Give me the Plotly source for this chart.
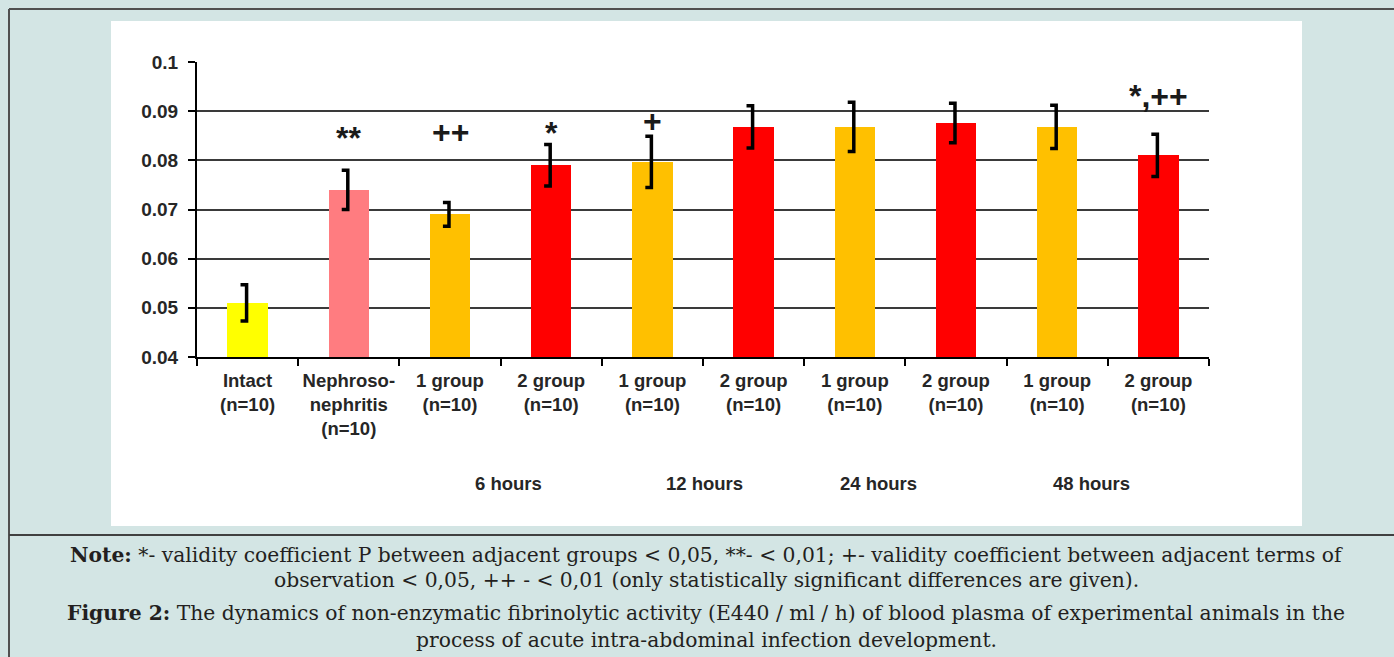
import plotly.graph_objects as go

# ---------------- data ----------------
categories = [
    "Intact<br>(n=10)",
    "Nephroso-<br>nephritis<br>(n=10)",
    "1 group<br>(n=10)", "2 group<br>(n=10)",
    "1 group<br>(n=10)", "2 group<br>(n=10)",
    "1 group<br>(n=10)", "2 group<br>(n=10)",
    "1 group<br>(n=10)", "2 group<br>(n=10)",
]
values = [0.051, 0.074, 0.069, 0.079, 0.0797, 0.0868, 0.0868, 0.0876, 0.0868, 0.081]
errors = [0.0037, 0.0040, 0.0024, 0.0042, 0.0052, 0.0043, 0.0050, 0.0040, 0.0044, 0.0043]
bar_colors = ["#ffff00", "#ff7c80", "#ffc000", "#ff0000", "#ffc000",
              "#ff0000", "#ffc000", "#ff0000", "#ffc000", "#ff0000"]
marks = ["", "**", "++", "*", "+", "", "", "", "", "*,++"]
periods = ["6 hours", "12 hours", "24 hours", "48 hours"]
y_ticks = [0.04, 0.05, 0.06, 0.07, 0.08, 0.09, 0.1]
y_tick_labels = ["0.04", "0.05", "0.06", "0.07", "0.08", "0.09", "0.1"]

note_line1 = ("<b>Note:</b> *- validity coefficient P between adjacent groups < 0,05, **- < 0,01; "
              "+- validity coefficient between adjacent terms of")
note_line2 = "observation < 0,05, ++ - < 0,01 (only statistically significant differences are given)."
fig_line1 = ("<b>Figure 2:</b> The dynamics of non-enzymatic fibrinolytic activity (E440 / ml / h) "
             "of blood plasma of experimental animals in the")
fig_line2 = "process of acute intra-abdominal infection development."

# ---------------- layout helpers ----------------
W, H = 1394, 657
L, R, T, B = 197, 1209, 62, 357  # plot area in pixels


def px(x):
    return (x - L) / (R - L)


def py(y):
    return (B - y) / (B - T)


xpos = list(range(len(categories)))

# significance mark placement (layout positions, data-y units)
mark_y = [None, 0.0846, 0.0857, 0.0856, 0.0881, None, None, None, None, 0.0931]
period_x = [2.58, 4.51, 6.23, 8.34]

fig = go.Figure()
fig.add_trace(go.Bar(
    x=xpos, y=values, width=0.4,
    marker=dict(color=bar_colors, line=dict(width=0)),
    hoverinfo="skip", showlegend=False,
))

# bracket-shaped error bars "]"
bx, by = [], []
for i, (v, e) in enumerate(zip(values, errors)):
    bx += [i - 0.07, i - 0.01, i - 0.01, i - 0.07, None]
    by += [v + e, v + e, v - e, v - e, None]
fig.add_trace(go.Scatter(
    x=bx, y=by, mode="lines",
    line=dict(color="black", width=3.5),
    hoverinfo="skip", showlegend=False,
))

sans = "Liberation Sans, Arial, sans-serif"
axis_font = dict(family=sans, size=19, color="#262626", weight="bold")
cat_font = dict(family=sans, size=18.5, color="#262626", weight="bold")

annotations = []
for i, m in enumerate(marks):
    if m:
        annotations.append(dict(
            x=i, y=mark_y[i], xref="x", yref="y", text=m, showarrow=False,
            font=dict(family=sans, size=32, color="#1a1a1a", weight="bold"),
            xanchor="center", yanchor="middle",
        ))
for p, xp in zip(periods, period_x):
    annotations.append(dict(
        x=xp, y=py(483), xref="x", yref="paper", text=p, showarrow=False,
        font=cat_font, xanchor="center", yanchor="middle",
    ))

serif = dict(family="DejaVu Serif, serif", size=20.3, color="#231f20")
for txt, yy in [(note_line1, 555), (note_line2, 580), (fig_line1, 613), (fig_line2, 640)]:
    annotations.append(dict(
        x=px(706), y=py(yy), xref="paper", yref="paper", text=txt, showarrow=False,
        font=serif, xanchor="center", yanchor="middle",
    ))

shapes = [
    # white chart panel
    dict(type="rect", xref="paper", yref="paper", x0=px(111), x1=px(1302), y0=py(526), y1=py(21),
         fillcolor="white", line=dict(width=0), layer="below"),
    # outer frame lines
    dict(type="line", xref="paper", yref="paper", x0=px(9), x1=px(9), y0=py(9), y1=py(H + 5),
         line=dict(color="#505050", width=2)),
    dict(type="line", xref="paper", yref="paper", x0=px(9), x1=px(W + 5), y0=py(9), y1=py(9),
         line=dict(color="#505050", width=2)),
    dict(type="line", xref="paper", yref="paper", x0=px(9), x1=px(W + 5), y0=py(535), y1=py(535),
         line=dict(color="#404040", width=2)),
]

yaxis_common = dict(
    range=[y_ticks[0], y_ticks[-1]], tickmode="array", tickvals=y_ticks, ticktext=y_tick_labels,
    ticks="outside", ticklen=7, tickwidth=1.5, tickcolor="black",
    showline=True, linecolor="black", linewidth=2, tickfont=axis_font, zeroline=False,
    fixedrange=True,
)

fig.update_layout(
    width=W, height=H, autosize=False,
    margin=dict(l=L, r=W - R, t=T, b=H - B),
    paper_bgcolor="#d3e5e4", plot_bgcolor="white",
    bargap=0,
    xaxis=dict(
        range=[-0.5, len(categories) - 0.5], tickmode="array", tickvals=xpos, ticktext=categories,
        ticks="", showline=True, linecolor="black", linewidth=2, tickfont=cat_font,
        ticklabelstandoff=6,
        showgrid=False, zeroline=False, fixedrange=True,
        minor=dict(tickmode="linear", tick0=-0.5, dtick=1, ticks="outside", ticklen=7,
                   tickwidth=1.5, tickcolor="black", showgrid=False),
    ),
    yaxis=dict(showgrid=True, gridcolor="#3a3a3a", gridwidth=1.5, side="left",
               ticklabelstandoff=6, **yaxis_common),
    yaxis2=dict(overlaying="y", side="right", showgrid=False, ticklabelstandoff=11, **yaxis_common),
    annotations=annotations,
    shapes=shapes,
)

fig.write_html("out.html", config={"displayModeBar": False},
               post_script="document.body.style.margin='0';")
